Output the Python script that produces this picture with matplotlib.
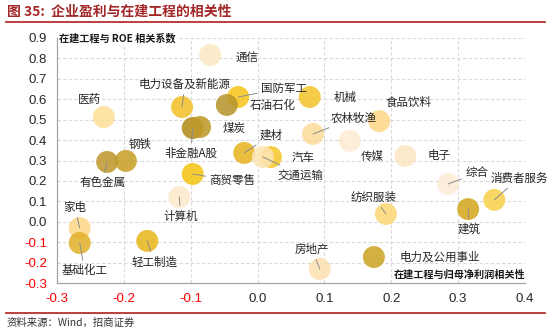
import matplotlib.pyplot as plt
from matplotlib.lines import Line2D

plt.rcParams['font.family'] = ['Noto Sans CJK SC', 'DejaVu Sans']

# 行业：在建工程与归母净利润相关性 (x)，在建工程与ROE相关系数 (y)
industries = ['通信', '医药', '电力设备及新能源', '国防军工', '石油石化', '非金融A股', '煤炭',
              '建材', '汽车', '交通运输', '商贸零售', '钢铁', '有色金属', '计算机', '家电',
              '基础化工', '轻工制造', '机械', '农林牧渔', '食品饮料', '传媒', '电子', '综合',
              '消费者服务', '建筑', '纺织服装', '房地产', '电力及公用事业']
corr_profit = [-0.071, -0.230, -0.113, -0.029, -0.046, -0.097, -0.086,
               -0.020, 0.020, 0.008, -0.097, -0.197, -0.225, -0.117, -0.266,
               -0.266, -0.165, 0.078, 0.083, 0.182, 0.138, 0.221, 0.285,
               0.354, 0.315, 0.192, 0.093, 0.174]
corr_roe = [0.817, 0.513, 0.562, 0.611, 0.572, 0.459, 0.464,
            0.337, 0.317, 0.317, 0.234, 0.298, 0.293, 0.121, -0.031,
            -0.104, -0.094, 0.611, 0.430, 0.493, 0.396, 0.322, 0.185,
            0.107, 0.062, 0.038, -0.231, -0.173]
colors = ['#FCE9C4', '#FDE09A', '#F2C12A', '#F5C520', '#B8962E', '#B08C1A', '#BE9A2A',
          '#E6B422', '#F5C830', '#FDE4B4', '#F5C518', '#C9A02A', '#C09A30', '#FDE9CC', '#FDD88A',
          '#E2B22E', '#E8B820', '#F3C530', '#FDDC9C', '#FCD888', '#FDEBD4', '#FDE6C4', '#FDECD6',
          '#F9D250', '#D4A820', '#FCD878', '#FDE1B2', '#CCA628']
# 标签偏移（像素）及是否画引线
label_dx = [37, -14, 3, 46, 46, -2, 34, 27, 32, 38, 40, 14, -5, 1, -5,
            5, 7, 35, 41, 29, 22, 34, 29, 25, 1, -12, -8, 66]
label_dy = [-2, 18, 23, 9, -1, -25, -1, 18, 0, -18, -7, 16, -21, -19, 21,
            -28, -21, 0, 16, 19, -16, 1, 11, 22, -20, 17, 20, 0]
leader = [False, False, True, True, False, True, False, True, False, True, True, False, True, True, True,
          True, True, False, True, False, False, False, True, True, True, True, True, False]

x_ticks = [-0.3, -0.2, -0.1, 0.0, 0.1, 0.2, 0.3, 0.4]
y_ticks = [-0.3, -0.2, -0.1, 0.0, 0.1, 0.2, 0.3, 0.4, 0.5, 0.6, 0.7, 0.8, 0.9]

fig = plt.figure(figsize=(5.5, 3.34), dpi=100)
ax = fig.add_axes([57 / 550, 51 / 334, 468 / 550, 245 / 334])

ax.scatter(corr_profit, corr_roe, s=250, c=colors, alpha=0.88, linewidths=0, zorder=3)

for name, x, y, dx, dy, ld in zip(industries, corr_profit, corr_roe, label_dx, label_dy, leader):
    arrow = dict(arrowstyle='-', color='#8C8C8C', lw=0.7, shrinkA=1, shrinkB=0) if ld else None
    ax.annotate(name, xy=(x, y), xytext=(dx, dy), textcoords='offset pixels',
                ha='center', va='center', fontsize=8.3, color='#262626',
                arrowprops=arrow, zorder=4)

ax.set_xlim(-0.3, 0.4)
ax.set_ylim(-0.3, 0.9)
ax.set_xticks(x_ticks)
ax.set_yticks(y_ticks)
ax.set_xticklabels([f'{v:.1f}' for v in x_ticks], family='Liberation Sans', fontsize=9.5)
ax.set_yticklabels([f'{v:.1f}' for v in y_ticks], family='Liberation Sans', fontsize=9.5)
for lab, v in zip(ax.get_xticklabels(), x_ticks):
    lab.set_color('#FF0000' if v < 0 else '#262626')
for lab, v in zip(ax.get_yticklabels(), y_ticks):
    lab.set_color('#FF0000' if v < 0 else '#262626')
ax.tick_params(length=0, pad=7)

ax.grid(True, color='#D9D9D9', linestyle=(0, (3, 2)), linewidth=0.8, zorder=0)
ax.set_axisbelow(True)
for side in ['top', 'right']:
    ax.spines[side].set_visible(False)
for side in ['left', 'bottom']:
    ax.spines[side].set_color('#A6A6A6')
    ax.spines[side].set_linewidth(0.9)

ax.text(0.005, 1.0, '在建工程与 ROE 相关系数', transform=ax.transAxes, ha='left', va='center',
        fontsize=7.3, fontweight='bold', color='#1A1A1A', zorder=5,
        bbox=dict(facecolor='white', edgecolor='none', pad=1))
ax.text(1.0, 0.033, '在建工程与归母净利润相关性', transform=ax.transAxes, ha='right', va='center',
        fontsize=7.3, fontweight='bold', color='#1A1A1A', zorder=5)

fig.text(0.012, 1 - 12 / 334, '图 35:  企业盈利与在建工程的相关性', ha='left', va='center',
         fontsize=10, fontweight='bold', color='#A3282A')
fig.add_artist(Line2D([0.01, 0.99], [1 - 22 / 334] * 2, color='#B5302F', lw=1.3))
fig.add_artist(Line2D([0.01, 0.99], [1 - 313 / 334] * 2, color='#B5302F', lw=1.3))
fig.text(0.012, 1 - 323 / 334, '资料来源：Wind，招商证券', ha='left', va='center',
         fontsize=7.5, color='#333333')

fig.savefig('out.png', dpi=100)
